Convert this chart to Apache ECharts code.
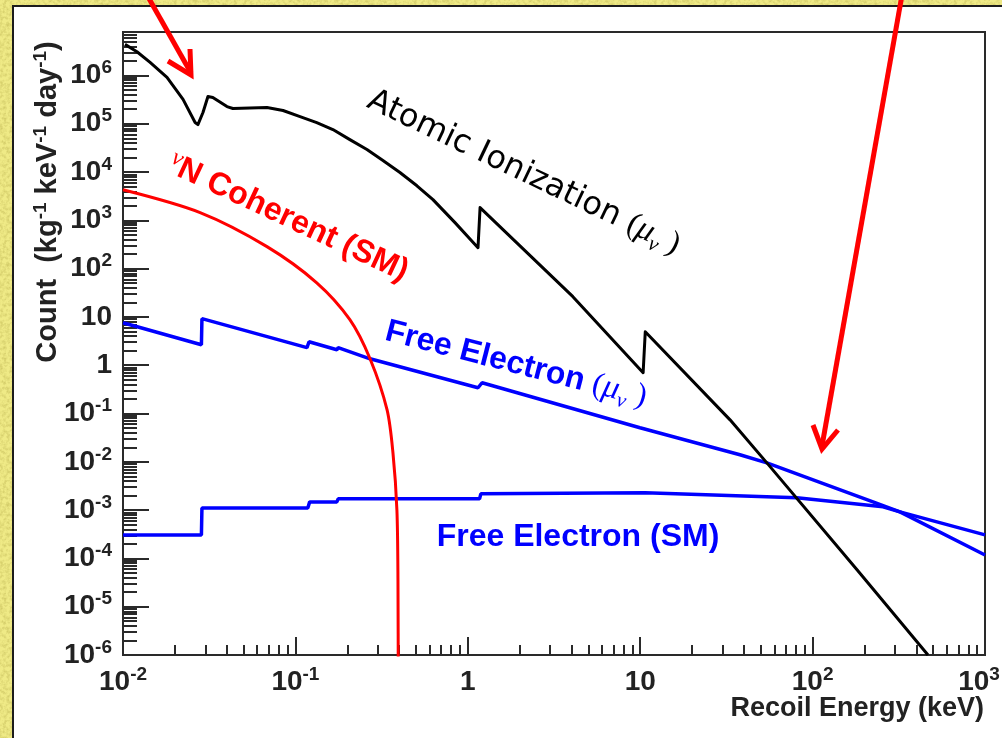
<!DOCTYPE html>
<html>
<head>
<meta charset="utf-8">
<script src="https://cdn.jsdelivr.net/npm/echarts@6/dist/echarts.min.js"></script>
<style>
  html, body { margin: 0; padding: 0; }
  #wrap {
    position: relative; width: 1002px; height: 738px; overflow: hidden;
    background-color: #efea86;
    background-image: url("data:image/svg+xml;utf8,<svg xmlns='http://www.w3.org/2000/svg' width='240' height='240'><filter id='n'><feTurbulence type='fractalNoise' baseFrequency='0.3' numOctaves='3' stitchTiles='stitch'/><feColorMatrix values='0 0 0 0 0.55 0 0 0 0 0.5 0 0 0 0 0.1 0 0 0 1.4 -0.55'/></filter><rect width='100%' height='100%' filter='url(%23n)'/></svg>");
  }
  #panel {
    position: absolute; left: 12px; top: 5px; right: -20px; bottom: -20px;
    background: #fff; border-left: 2px solid #1c1c1c; border-top: 2px solid #1c1c1c;
  }
  #chart { position: absolute; left: 0; top: 0; width: 1002px; height: 738px; }
</style>
</head>
<body>
<div id="wrap"><div id="panel"></div><div id="chart"></div></div>
<script>
// Recoil energy (keV) and count rate (kg^-1 keV^-1 day^-1) for each spectrum
const atomicEnergy = [0.01027, 0.01205, 0.01436, 0.018, 0.0223, 0.0262, 0.0272, 0.0291, 0.0311, 0.0332, 0.0401, 0.0434, 0.0684, 0.0848, 0.1064, 0.133, 0.165, 0.207, 0.26, 0.322, 0.404, 0.507, 0.628, 0.843, 1.146, 1.178, 4.07, 10.4, 10.7, 33.2, 54.3, 181, 467];
const atomicCount  = [4.4e6, 3.1e6, 1.86e6, 9.1e5, 3.2e5, 1.06e5, 9.6e4, 1.71e5, 3.67e5, 3.5e5, 2.27e5, 2.07e5, 2.17e5, 1.88e5, 1.41e5, 1.06e5, 7.6e4, 4.7e4, 2.92e4, 1.73e4, 9.8e3, 5.2e3, 2.69e3, 898, 272, 1840, 26.3, 0.70, 4.94, 0.074, 9.5e-3, 5.8e-5, 1e-6];

const coherentEnergy = [0.01, 0.028, 0.0684, 0.133, 0.207, 0.271, 0.340, 0.368, 0.388, 0.3935, 0.395];
const coherentCount  = [4.3e3, 1.45e3, 286, 51, 8.8, 1.36, 0.12, 0.0154, 1.0e-3, 3.5e-5, 1e-7];

const freeMuEnergy = [0.01, 0.0285, 0.0287, 0.1167, 0.12, 0.174, 0.177, 0.271, 1.146, 1.21, 9.97, 37.9, 54.3, 224, 321, 1000];
const freeMuCount  = [7.6, 2.66, 9.2, 2.31, 3.07, 2.09, 2.31, 1.36, 0.342, 0.434, 0.0507, 0.014, 9.5e-3, 1.48e-3, 9.2e-4, 1.18e-4];

const freeSmEnergy = [0.01, 0.0285, 0.0287, 0.118, 0.121, 0.174, 0.177, 1.17, 1.19, 10.7, 81, 256, 321, 1000];
const freeSmCount  = [3.07e-4, 3.07e-4, 1.11e-3, 1.11e-3, 1.48e-3, 1.48e-3, 1.71e-3, 1.71e-3, 2.17e-3, 2.28e-3, 1.8e-3, 1.17e-3, 9.2e-4, 3.07e-4];

// Decade exponents used for major ticks and labels
const xDecades = [-2, -1, 0, 1, 2, 3];
const yDecades = [-6, -5, -4, -3, -2, -1, 0, 1, 2, 3, 4, 5, 6];
const xMin = -2, xMax = 3, yMin = -6, yMax = 6.9;

function minorTicks(decades, maxExp) {
  const out = [];
  decades.forEach(function (d) {
    for (let k = 2; k <= 9; k++) {
      const v = d + Math.log10(k);
      if (v < maxExp) out.push(v);
    }
  });
  return out;
}
const xMinor = minorTicks(xDecades, xMax);
const yMinor = minorTicks(yDecades, yMax);

function toLogPairs(energy, count) {
  return energy.map(function (e, i) { return [Math.log10(e), Math.log10(count[i])]; });
}

function decadeLabel(v) {
  const n = Math.round(v);
  if (n === 0) return '1';
  if (n === 1) return '10';
  return '10{sup|' + n + '}';
}

// the last x label is nudged left so it stays inside the page
function xDecadeLabel(v) {
  const n = Math.round(v);
  if (n === xMax) return '10{supEnd|' + n + '}';
  return decadeLabel(v);
}

const tickFont = "'Liberation Sans', Arial, sans-serif";
const supStyle = { fontSize: 19, lineHeight: 19, verticalAlign: 'top', fontWeight: 'bold', fontFamily: tickFont, color: '#222' };
const tickRich = {
  sup: supStyle,
  supEnd: Object.assign({}, supStyle, { padding: [0, 12, 0, 0] })
};

const chart = echarts.init(document.getElementById('chart'), null, { renderer: 'canvas' });

const axisColor = '#2a2a2a';

const option = {
  animation: false,
  backgroundColor: 'transparent',
  grid: {
    left: 123, top: 32, right: 17, bottom: 83,
    outerBoundsMode: 'none', containLabel: false,
    show: true, borderColor: axisColor, borderWidth: 2, backgroundColor: 'transparent'
  },
  xAxis: [
    {
      type: 'value', min: xMin, max: xMax, interval: 1, position: 'bottom',
      axisLine: { show: true, onZero: false, lineStyle: { color: axisColor, width: 2 } },
      axisTick: { show: true, inside: true, length: 18, customValues: xDecades, lineStyle: { color: axisColor, width: 2 } },
      axisLabel: {
        show: true, customValues: xDecades, margin: 10, hideOverlap: false,
        formatter: xDecadeLabel,
        fontSize: 28, lineHeight: 34, fontWeight: 'bold', fontFamily: tickFont, color: '#222',
        rich: tickRich
      },
      splitLine: { show: false }
    },
    {
      type: 'value', min: xMin, max: xMax, position: 'bottom',
      axisLine: { show: false, onZero: false },
      axisTick: { show: true, inside: true, length: 10, customValues: xMinor, lineStyle: { color: axisColor, width: 2 } },
      axisLabel: { show: false },
      splitLine: { show: false }
    }
  ],
  yAxis: [
    {
      type: 'value', min: yMin, max: yMax, interval: 1, position: 'left',
      axisLine: { show: true, onZero: false, lineStyle: { color: axisColor, width: 2 } },
      axisTick: { show: true, inside: true, length: 26, customValues: yDecades, lineStyle: { color: axisColor, width: 2 } },
      axisLabel: {
        show: true, customValues: yDecades, margin: 11, hideOverlap: false,
        formatter: decadeLabel,
        fontSize: 28, lineHeight: 34, fontWeight: 'bold', fontFamily: tickFont, color: '#222',
        rich: tickRich
      },
      splitLine: { show: false }
    },
    {
      type: 'value', min: yMin, max: yMax, position: 'left',
      axisLine: { show: false, onZero: false },
      axisTick: { show: true, inside: true, length: 14, customValues: yMinor, lineStyle: { color: axisColor, width: 2 } },
      axisLabel: { show: false },
      splitLine: { show: false }
    }
  ],
  series: [
    {
      name: 'Free Electron (SM)', type: 'line', xAxisIndex: 0, yAxisIndex: 0,
      data: toLogPairs(freeSmEnergy, freeSmCount), showSymbol: false, symbol: 'none', clip: true,
      lineStyle: { color: '#0000ff', width: 3.5 }, z: 3
    },
    {
      name: 'Free Electron (mu)', type: 'line', xAxisIndex: 0, yAxisIndex: 0,
      data: toLogPairs(freeMuEnergy, freeMuCount), showSymbol: false, symbol: 'none', clip: true,
      lineStyle: { color: '#0000ff', width: 3.5 }, z: 3
    },
    {
      name: 'vN Coherent (SM)', type: 'line', xAxisIndex: 0, yAxisIndex: 0, smooth: 0.3,
      data: toLogPairs(coherentEnergy, coherentCount), showSymbol: false, symbol: 'none', clip: true,
      lineStyle: { color: '#ff0000', width: 3 }, z: 4
    },
    {
      name: 'Atomic Ionization (mu)', type: 'line', xAxisIndex: 0, yAxisIndex: 0,
      data: toLogPairs(atomicEnergy, atomicCount), showSymbol: false, symbol: 'none', clip: true,
      lineStyle: { color: '#000000', width: 3, join: 'round' }, z: 5
    }
  ],
  graphic: [
    // curve annotations
    {
      type: 'text', x: 369, y: 99, rotation: -25.5 * Math.PI / 180, z: 20,
      style: {
        text: 'Atomic Ionization {p|(}{mu|μ}{nu|ν}{p| )}',
        fill: '#000', align: 'left', verticalAlign: 'middle',
        font: "32px 'DejaVu Sans', Verdana, sans-serif", lineHeight: 40,
        rich: {
          p: { fontSize: 32, fontFamily: "'Liberation Serif', serif", lineHeight: 40, fill: '#000' },
          mu: { fontSize: 33, fontStyle: 'italic', fontFamily: "'Liberation Serif', serif", lineHeight: 40, fill: '#000' },
          nu: { fontSize: 21, fontStyle: 'italic', fontFamily: "'Liberation Serif', serif", lineHeight: 22, verticalAlign: 'bottom', fill: '#000' }
        }
      }
    },
    {
      type: 'text', x: 288, y: 218, rotation: -25 * Math.PI / 180, z: 20,
      style: {
        text: '{nu|ν}N Coherent (SM)',
        fill: '#ff0000', align: 'center', verticalAlign: 'middle',
        font: "bold 32px 'Liberation Sans', Arial, sans-serif", lineHeight: 38,
        rich: {
          nu: { fontSize: 24, fontStyle: 'italic', fontFamily: "'Liberation Serif', serif", lineHeight: 26, verticalAlign: 'top', fill: '#ff0000' }
        }
      }
    },
    {
      type: 'text', x: 386, y: 331, rotation: -14.4 * Math.PI / 180, z: 20,
      style: {
        text: 'Free Electron {p|(}{mu|μ}{nu|ν}{p| )}',
        fill: '#0000ff', align: 'left', verticalAlign: 'middle',
        font: "bold 32px 'Liberation Sans', Arial, sans-serif", lineHeight: 40,
        rich: {
          p: { fontSize: 32, fontFamily: "'Liberation Serif', serif", lineHeight: 40, fill: '#0000ff' },
          mu: { fontSize: 33, fontStyle: 'italic', fontFamily: "'Liberation Serif', serif", lineHeight: 40, fill: '#0000ff' },
          nu: { fontSize: 21, fontStyle: 'italic', fontFamily: "'Liberation Serif', serif", lineHeight: 22, verticalAlign: 'bottom', fill: '#0000ff' }
        }
      }
    },
    {
      type: 'text', x: 578, y: 537, z: 20,
      style: {
        text: 'Free Electron (SM)', fill: '#0000ff', align: 'center', verticalAlign: 'middle',
        font: "bold 32px 'Liberation Sans', Arial, sans-serif"
      }
    },
    // axis titles
    {
      type: 'text', x: 48, y: 202, rotation: Math.PI / 2, z: 20,
      style: {
        text: 'Count  (kg{s|-1} keV{s|-1} day{s|-1})', fill: '#222', align: 'center', verticalAlign: 'middle',
        font: "bold 29px 'Liberation Sans', Arial, sans-serif", lineHeight: 34,
        rich: {
          s: { fontSize: 19, fontWeight: 'bold', fontFamily: "'Liberation Sans', Arial, sans-serif", lineHeight: 19, verticalAlign: 'top', fill: '#222' }
        }
      }
    },
    {
      type: 'text', x: 984, y: 709, z: 20,
      style: {
        text: 'Recoil Energy (keV)', fill: '#222', align: 'right', verticalAlign: 'middle',
        font: "bold 27px 'Liberation Sans', Arial, sans-serif"
      }
    },
    // red pointer arrows
    {
      type: 'polyline', z: 30,
      shape: { points: [[147, -5], [191, 73]] },
      style: { stroke: '#ff0000', lineWidth: 5, fill: null }
    },
    {
      type: 'polyline', z: 30,
      shape: { points: [[168, 61], [191, 75], [190, 49]] },
      style: { stroke: '#ff0000', lineWidth: 5, fill: null, lineJoin: 'miter' }
    },
    {
      type: 'polyline', z: 30,
      shape: { points: [[902, -5], [822, 446]] },
      style: { stroke: '#ff0000', lineWidth: 5, fill: null }
    },
    {
      type: 'polyline', z: 30,
      shape: { points: [[813, 425], [822, 449], [838, 430]] },
      style: { stroke: '#ff0000', lineWidth: 5, fill: null, lineJoin: 'miter' }
    }
  ]
};

chart.setOption(option);
</script>
</body>
</html>
